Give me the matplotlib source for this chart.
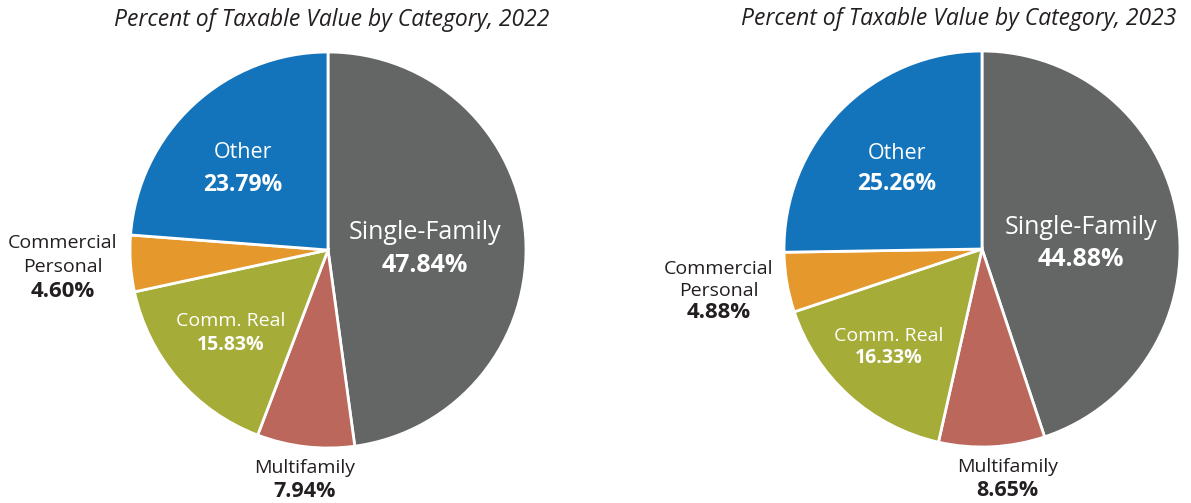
import matplotlib
matplotlib.use("Agg")
import matplotlib.pyplot as plt

plt.rcParams['font.family'] = ['Open Sans', 'DejaVu Sans']

categories = ['Single-Family', 'Multifamily', 'Comm. Real', 'Commercial\nPersonal', 'Other']
values_2022 = [47.84, 7.94, 15.83, 4.60, 23.79]
values_2023 = [44.88, 8.65, 16.33, 4.88, 25.26]
colors = ['#646665', '#bc675c', '#a5ac37', '#e5982c', '#1474bb']
titles = ['Percent of Taxable Value by Category, 2022',
          'Percent of Taxable Value by Category, 2023']

# (x, name y, value y) in pie units
label_pos_2022 = [(0.49, 0.09, -0.08), (-0.12, -1.10, -1.22), (-0.49, -0.36, -0.48),
                  (-1.34, 0.035, -0.21), (-0.43, 0.49, 0.33)]
label_pos_2023 = [(0.50, 0.11, -0.055), (0.13, -1.10, -1.22), (-0.47, -0.44, -0.55),
                  (-1.33, -0.10, -0.32), (-0.43, 0.48, 0.33)]
# font sizes (name, value) per category
name_sizes = [18, 14, 14, 14, 15.5]
value_sizes = [18, 15.5, 14, 16, 16.5]

W, H = 1191, 503
fig = plt.figure(figsize=(W / 100, H / 100), dpi=100)
fig.set_facecolor('w')


def draw(cx, cy, r, vals, title, pos, title_dx):
    ax = fig.add_axes([(cx - r) / W, (H - cy - r) / H, 2 * r / W, 2 * r / H])
    ax.pie(vals, colors=colors, startangle=90, counterclock=False, radius=1,
           wedgeprops=dict(edgecolor='white', linewidth=2))
    ax.set_xlim(-1, 1)
    ax.set_ylim(-1, 1)
    ax.set_aspect('equal')
    ax.axis('off')
    for i, (name, v) in enumerate(zip(categories, vals)):
        x, yn, yv = pos[i]
        col = 'white' if i in (0, 2, 4) else '#231f20'
        if i == 3:
            first, second = name.split('\n')
            step = (yn - yv) / 2
            ax.text(x, yn, first, ha='center', va='center', fontsize=name_sizes[i],
                    color=col, clip_on=False)
            ax.text(x, yn - step, second, ha='center', va='center',
                    fontsize=name_sizes[i], color=col, clip_on=False)
        else:
            ax.text(x, yn, name, ha='center', va='center', fontsize=name_sizes[i],
                    color=col, clip_on=False)
        ax.text(x, yv, f'{v:.2f}%', ha='center', va='center', fontsize=value_sizes[i],
                color=col, fontweight='bold', clip_on=False)
    ax.text(title_dx, 1.0 + 32 / r, title, ha='center', va='center', fontsize=16.5,
            style='italic', color='#231f20', clip_on=False)


draw(328, 250, 198, values_2022, titles[0], label_pos_2022, 0.02)
draw(982, 249, 198, values_2023, titles[1], label_pos_2023, -0.12)

fig.savefig('out.png', dpi=100, facecolor='w')
